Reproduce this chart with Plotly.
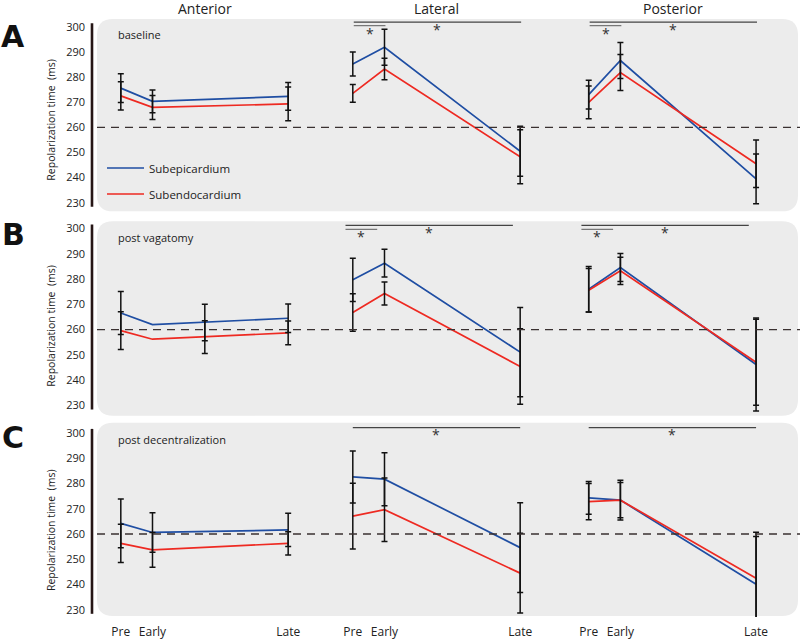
import plotly.graph_objects as go

# ---------------- data ----------------
time_labels = ["Pre", "Early", "Late"]
time_pos = [0.0, 1.0, 5.28]
regions = ["Anterior", "Lateral", "Posterior"]
conditions = ["baseline", "post vagatomy", "post decentralization"]
row_letters = ["A", "B", "C"]
series_names = ["Subepicardium", "Subendocardium"]
ref_level = 260
y_ticks = [230, 240, 250, 260, 270, 280, 290, 300]

# mean repolarization time (ms): [row][region][time]
epi_mean = [
    [[275.7, 270.4, 272.4], [285.3, 292.0, 250.5], [273.1, 286.7, 239.5]],
    [[266.6, 262.0, 264.5], [279.7, 286.3, 251.1], [276.0, 284.6, 246.2]],
    [[264.2, 260.6, 261.6], [282.6, 281.7, 254.6], [274.3, 273.4, 240.1]],
]
epi_err = [
    [[5.7, 4.5, 5.5], [4.8, 7.2, 10.0], [5.7, 7.2, 9.9]],
    [[8.5, 7.2, 5.6], [8.6, 5.5, 17.7], [9.0, 5.5, 18.4]],
    [[9.6, 7.8, 6.6], [10.3, 10.5, 17.8], [6.5, 7.9, 20.6]],
]
endo_mean = [
    [[272.6, 268.0, 269.4], [273.6, 283.3, 248.3], [270.0, 281.9, 245.5]],
    [[259.6, 256.2, 258.7], [266.8, 274.3, 245.4], [275.6, 283.3, 247.1]],
    [[256.3, 253.7, 256.3], [267.1, 269.6, 244.5], [272.8, 273.4, 242.5]],
]
endo_err = [
    [[5.6, 4.8, 6.7], [3.5, 4.3, 10.8], [6.5, 7.2, 9.5]],
    [[7.5, 6.5, 4.7], [7.4, 4.6, 14.9], [8.6, 5.4, 17.0]],
    [[7.6, 6.9, 4.6], [13.0, 12.6, 15.8], [7.2, 7.0, 16.5]],
]
# in panel B/Anterior the middle error bars are drawn away from the "Early" point
b_ant_mid_bar_pos = 2.65
b_ant_mid_bar_center = [262.8, 257.0]  # epi, endo

# significance brackets: (row, region, from, to)
sig_pairs = [
    (0, 1, 0, 1), (0, 1, 0, 2), (0, 2, 0, 1), (0, 2, 0, 2),
    (1, 1, 0, 1), (1, 1, 0, 2), (1, 2, 0, 1), (1, 2, 0, 2),
    (2, 1, 0, 2), (2, 2, 0, 2),
]

# ---------------- geometry / style ----------------
W, H = 800, 640
FONT = "Open Sans"
BLUE = "#1f4ea3"
RED = "#ee2a22"
TXT = "#222222"
col_pre_px = [120.8, 352.8, 588.7]
unit_px = 31.7
x_range = [-0.75, 6.0]
row_p300 = [27.3, 229.3, 434.3]
row_k = [2.514, 2.534, 2.534]
row_ylo = [226.0, 225.5, 227.1]
y_hi = 303.5
row_box = [(97, 19, 798, 212), (97, 222, 798, 417), (97, 424, 798, 618)]
sig_shift = [0.03, -0.23, 0.0]
sig_long_y = [302.0, 301.3, 302.1]
sig_short_y = [300.6, 299.7, 300.6]
star_long_y = [298.9, 298.4, 299.3]
star_short_y = [297.4, 296.9, 297.7]


def px2x(px):
    return px / W


def px2y(py):
    return 1 - py / H


def xdomain(c):
    pre = col_pre_px[c]
    return [px2x(pre + x_range[0] * unit_px), px2x(pre + x_range[1] * unit_px)]


def ydomain(r):
    top = row_p300[r] - (y_hi - 300) * row_k[r]
    bot = row_p300[r] + (300 - row_ylo[r]) * row_k[r]
    return [px2y(bot), px2y(top)]


def axid(r, c):
    return r * 3 + c + 1


def xref(r, c):
    i = axid(r, c)
    return "x" if i == 1 else f"x{i}"


def yref(r, c):
    i = axid(r, c)
    return "y" if i == 1 else f"y{i}"


fig = go.Figure()
layout_axes = {}

for r in range(3):
    for c in range(3):
        i = axid(r, c)
        xs, ys = xref(r, c), yref(r, c)
        # lines
        for s, (means, col) in enumerate([(epi_mean, BLUE), (endo_mean, RED)]):
            fig.add_trace(go.Scatter(
                x=time_pos, y=means[r][c], mode="lines",
                line=dict(color=col, width=1.7),
                name=series_names[s], legendgroup=series_names[s],
                showlegend=(r == 0 and c == 0),
                xaxis=xs, yaxis=ys, hoverinfo="skip"))
        # error bars
        for s, (means, errs) in enumerate([(epi_mean, epi_err), (endo_mean, endo_err)]):
            bx = list(time_pos)
            by = list(means[r][c])
            if r == 1 and c == 0:
                bx[1] = b_ant_mid_bar_pos
                by[1] = b_ant_mid_bar_center[s]
            fig.add_trace(go.Scatter(
                x=bx, y=by, mode="markers",
                marker=dict(size=1, opacity=0),
                error_y=dict(type="data", array=errs[r][c], visible=True,
                             color="#111111", thickness=1.5, width=3),
                showlegend=False, xaxis=xs, yaxis=ys, hoverinfo="skip"))

        xa = dict(domain=xdomain(c), range=x_range, anchor=ys,
                  showgrid=False, zeroline=False, showline=False, ticks="",
                  fixedrange=True)
        if r == 2:
            xa.update(tickvals=time_pos, ticktext=time_labels, showticklabels=True,
                      tickfont=dict(family=FONT, size=12, color=TXT),
                      ticklabelstandoff=6)
        else:
            xa.update(showticklabels=False)
        ya = dict(domain=ydomain(r), range=[row_ylo[r], y_hi],
                  showgrid=False, zeroline=False, showline=False, ticks="",
                  fixedrange=True)
        if c == 0:
            ya.update(anchor="free", position=px2x(92), tickvals=y_ticks,
                      showticklabels=True, ticklabelstandoff=7,
                      tickfont=dict(family=FONT, size=11, color=TXT))
        else:
            ya.update(anchor=xs, showticklabels=False)
        layout_axes["xaxis" if i == 1 else f"xaxis{i}"] = xa
        layout_axes["yaxis" if i == 1 else f"yaxis{i}"] = ya

shapes = []
# rounded grey backgrounds
rad = 16
for (x0, y0, x1, y1) in row_box:
    rx, ry = rad / W, rad / H
    X0, X1, Y0, Y1 = px2x(x0), px2x(x1), px2y(y0), px2y(y1)
    path = (f"M {X0+rx},{Y0} L {X1-rx},{Y0} Q {X1},{Y0} {X1},{Y0-ry} "
            f"L {X1},{Y1+ry} Q {X1},{Y1} {X1-rx},{Y1} L {X0+rx},{Y1} "
            f"Q {X0},{Y1} {X0},{Y1+ry} L {X0},{Y0-ry} Q {X0},{Y0} {X0+rx},{Y0} Z")
    shapes.append(dict(type="path", path=path, xref="paper", yref="paper",
                       fillcolor="#ececec", line=dict(width=0), layer="below"))

for r in range(3):
    # y axis bar
    shapes.append(dict(type="line", xref="paper", yref=yref(r, 0),
                       x0=px2x(92), x1=px2x(92), y0=228.4, y1=301.6,
                       line=dict(color="#261616", width=2.6)))
    # dashed reference line
    shapes.append(dict(type="line", xref="paper", yref=yref(r, 0),
                       x0=px2x(97), x1=1.0, y0=ref_level, y1=ref_level,
                       line=dict(color="#3a3131", width=1.3, dash="8px,6px")))

annotations = []
for (r, c, a, b) in sig_pairs:
    long = (b == 2)
    yl = sig_long_y[r] if long else sig_short_y[r]
    x0 = time_pos[a] + sig_shift[r]
    x1 = time_pos[b] + sig_shift[r]
    shapes.append(dict(type="line", xref=xref(r, c), yref=yref(r, c),
                       x0=x0, x1=x1, y0=yl, y1=yl,
                       line=dict(color="#444444" if long else "#777777", width=1.3)))
    annotations.append(dict(text="*", x=(x0 + x1) / 2, xref=xref(r, c),
                            y=star_long_y[r] if long else star_short_y[r], yref=yref(r, c),
                            showarrow=False, xanchor="center", yanchor="middle",
                            font=dict(family=FONT, size=14, color="#333333")))

# column titles
title_px = [205, 436.7, 672.7]
for c in range(3):
    annotations.append(dict(text=regions[c], x=px2x(title_px[c]), y=px2y(9),
                            xref="paper", yref="paper", showarrow=False,
                            xanchor="center", yanchor="middle",
                            font=dict(family=FONT, size=14, color=TXT)))

letter_y = [37, 235, 438.5]
cond_y = [35, 238.3, 441]
ytitle_y = [120, 326.7, 531.7]
for r in range(3):
    annotations.append(dict(text=f"<b>{row_letters[r]}</b>", x=px2x(13), y=px2y(letter_y[r]),
                            xref="paper", yref="paper", showarrow=False,
                            xanchor="center", yanchor="middle",
                            font=dict(family="DejaVu Sans", size=30, color="#111111")))
    annotations.append(dict(text=conditions[r], x=px2x(115.5), y=px2y(cond_y[r]),
                            xref="paper", yref="paper", showarrow=False,
                            xanchor="left", yanchor="middle",
                            font=dict(family=FONT, size=11, color=TXT)))
    annotations.append(dict(text="Repolarization time  (ms)", x=px2x(51), y=px2y(ytitle_y[r]),
                            xref="paper", yref="paper", showarrow=False, textangle=-90,
                            xanchor="center", yanchor="middle",
                            font=dict(family=FONT, size=10.5, color=TXT)))

fig.update_layout(
    width=W, height=H,
    margin=dict(l=0, r=0, t=0, b=0),
    paper_bgcolor="white", plot_bgcolor="rgba(0,0,0,0)",
    font=dict(family=FONT, color=TXT),
    shapes=shapes, annotations=annotations,
    showlegend=True,
    legend=dict(x=px2x(102), y=px2y(154), xanchor="left", yanchor="top",
                bgcolor="rgba(0,0,0,0)", borderwidth=0,
                font=dict(family=FONT, size=11.5, color=TXT),
                itemwidth=37, tracegroupgap=7),
    **layout_axes,
)

# remove the browser's default page margin so the 800x640 figure fills the window
fig.write_html("out.html",
               config={"displayModeBar": False},
               post_script="document.body.style.margin='0px';document.body.style.overflow='hidden';")
